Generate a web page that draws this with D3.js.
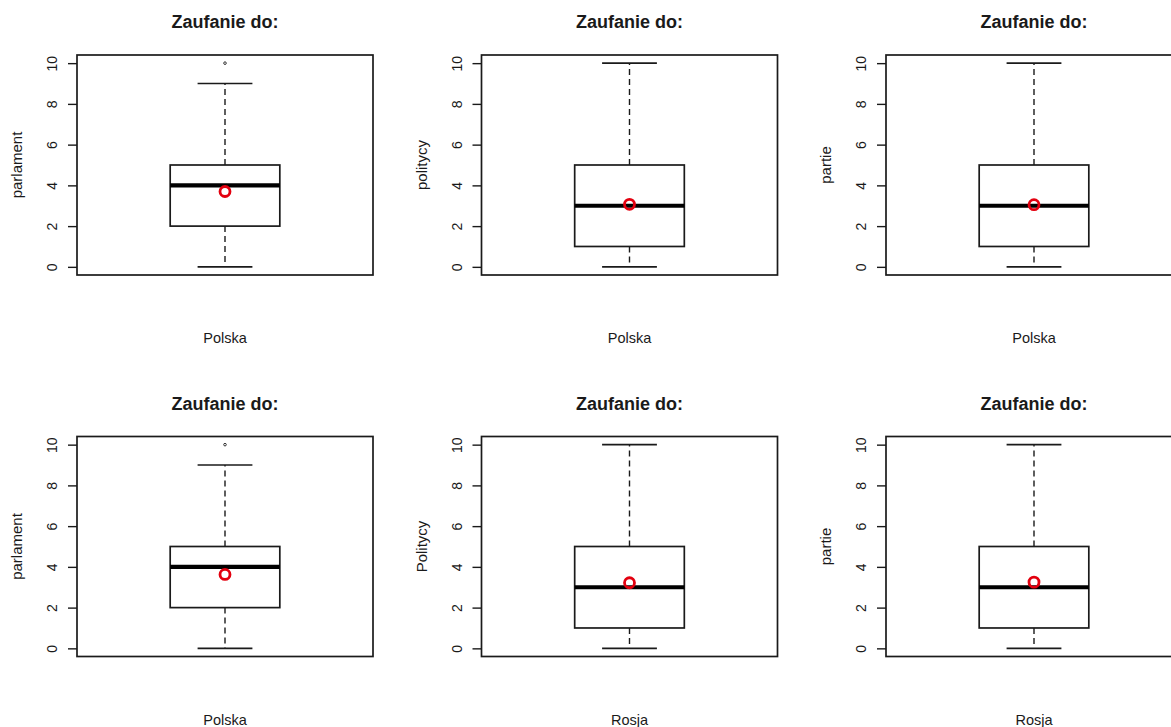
<!DOCTYPE html>
<html>
<head>
<meta charset="utf-8">
<script src="https://cdn.jsdelivr.net/npm/d3@7"></script>
<style>
  html, body { margin: 0; padding: 0; background: #fff; overflow: hidden; }
  svg { display: block; }
  text { font-family: Arial, "Liberation Sans", sans-serif; fill: #1a1a1a; }
</style>
</head>
<body>
<svg id="chart" width="1171" height="727"></svg>
<script>
// ---- data ----
const titles = ["Zaufanie do:", "Zaufanie do:", "Zaufanie do:", "Zaufanie do:", "Zaufanie do:", "Zaufanie do:"];
const yLabels = ["parlament", "politycy", "partie", "parlament", "Politycy", "partie"];
const xLabels = ["Polska", "Polska", "Polska", "Polska", "Rosja", "Rosja"];
const whiskerLow = [0, 0, 0, 0, 0, 0];
const q1 = [2, 1, 1, 2, 1, 1];
const medians = [4, 3, 3, 4, 3, 3];
const q3 = [5, 5, 5, 5, 5, 5];
const whiskerHigh = [9, 10, 10, 9, 10, 10];
const outliers = [[10], [], [], [10], [], []];
const means = [3.7, 3.07, 3.05, 3.63, 3.22, 3.25];
const yTicks = [0, 2, 4, 6, 8, 10];

// ---- layout ----
const svg = d3.select("#chart");
const panelW = 404.5, rowH = 381.5;
const plotLeft = 77, plotRight = 373, plotTop = 55, plotBottom = 275;

const x = d3.scaleLinear().domain([0.46, 1.54]).range([plotLeft, plotRight]);
const y = d3.scaleLinear().domain([-0.4, 10.4]).range([plotBottom, plotTop]);
const boxW = 0.4, capW = 0.2;

for (let i = 0; i < 6; i++) {
  const col = i % 3, row = Math.floor(i / 3);
  const g = svg.append("g").attr("transform", `translate(${col * panelW},${row * rowH})`);

  // title
  g.append("text").attr("x", (plotLeft + plotRight) / 2).attr("y", 28)
    .attr("text-anchor", "middle").style("font-weight", "bold").style("font-size", "18px")
    .text(titles[i]);

  // x label
  g.append("text").attr("x", (plotLeft + plotRight) / 2).attr("y", 343)
    .attr("text-anchor", "middle").style("font-size", "14.5px").text(xLabels[i]);

  // y label
  g.append("text").attr("transform", `translate(22,${(plotTop + plotBottom) / 2}) rotate(-90)`)
    .attr("text-anchor", "middle").style("font-size", "15px").text(yLabels[i]);

  // y axis
  const axis = d3.axisLeft(y).tickValues(yTicks).tickSize(9).tickPadding(0).tickFormat(d3.format("d"));
  const ag = g.append("g").attr("transform", `translate(${plotLeft},0)`).call(axis);
  ag.select(".domain").remove();
  ag.selectAll(".tick line").attr("stroke", "#1a1a1a").attr("stroke-width", 1.4);
  ag.selectAll(".tick text")
    .attr("x", null).attr("dy", null)
    .attr("transform", d => `translate(${57 - plotLeft},0) rotate(-90)`)
    .attr("y", 0)
    .attr("text-anchor", "middle")
    .style("font-size", "14px").style("font-family", "Arial, 'Liberation Sans', sans-serif")
    .attr("fill", "#1a1a1a");

  // whiskers (dashed)
  const cx = x(1);
  g.append("line").attr("x1", cx).attr("x2", cx).attr("y1", y(q3[i])).attr("y2", y(whiskerHigh[i]))
    .attr("stroke", "#1a1a1a").attr("stroke-width", 1.4).attr("stroke-dasharray", "6,4");
  g.append("line").attr("x1", cx).attr("x2", cx).attr("y1", y(q1[i])).attr("y2", y(whiskerLow[i]))
    .attr("stroke", "#1a1a1a").attr("stroke-width", 1.4).attr("stroke-dasharray", "6,4");
  // caps
  [whiskerLow[i], whiskerHigh[i]].forEach(v => {
    g.append("line").attr("x1", x(1 - capW / 2)).attr("x2", x(1 + capW / 2))
      .attr("y1", y(v)).attr("y2", y(v)).attr("stroke", "#1a1a1a").attr("stroke-width", 1.7);
  });
  // box
  g.append("rect").attr("x", x(1 - boxW / 2)).attr("y", y(q3[i]))
    .attr("width", x(1 + boxW / 2) - x(1 - boxW / 2)).attr("height", y(q1[i]) - y(q3[i]))
    .attr("fill", "none").attr("stroke", "#1a1a1a").attr("stroke-width", 1.7);
  // median
  g.append("line").attr("x1", x(1 - boxW / 2)).attr("x2", x(1 + boxW / 2))
    .attr("y1", y(medians[i])).attr("y2", y(medians[i]))
    .attr("stroke", "#000").attr("stroke-width", 4.2);
  // outliers
  outliers[i].forEach(v => {
    g.append("circle").attr("cx", cx).attr("cy", y(v)).attr("r", 1.3)
      .attr("fill", "none").attr("stroke", "#333").attr("stroke-width", 1);
  });
  // mean
  g.append("circle").attr("cx", cx).attr("cy", y(means[i])).attr("r", 5)
    .attr("fill", "none").attr("stroke", "#e3000f").attr("stroke-width", 2.8);

  // plot frame
  g.append("rect").attr("x", plotLeft).attr("y", plotTop)
    .attr("width", plotRight - plotLeft).attr("height", plotBottom - plotTop)
    .attr("fill", "none").attr("stroke", "#1a1a1a").attr("stroke-width", 1.7);
}
</script>
</body>
</html>
